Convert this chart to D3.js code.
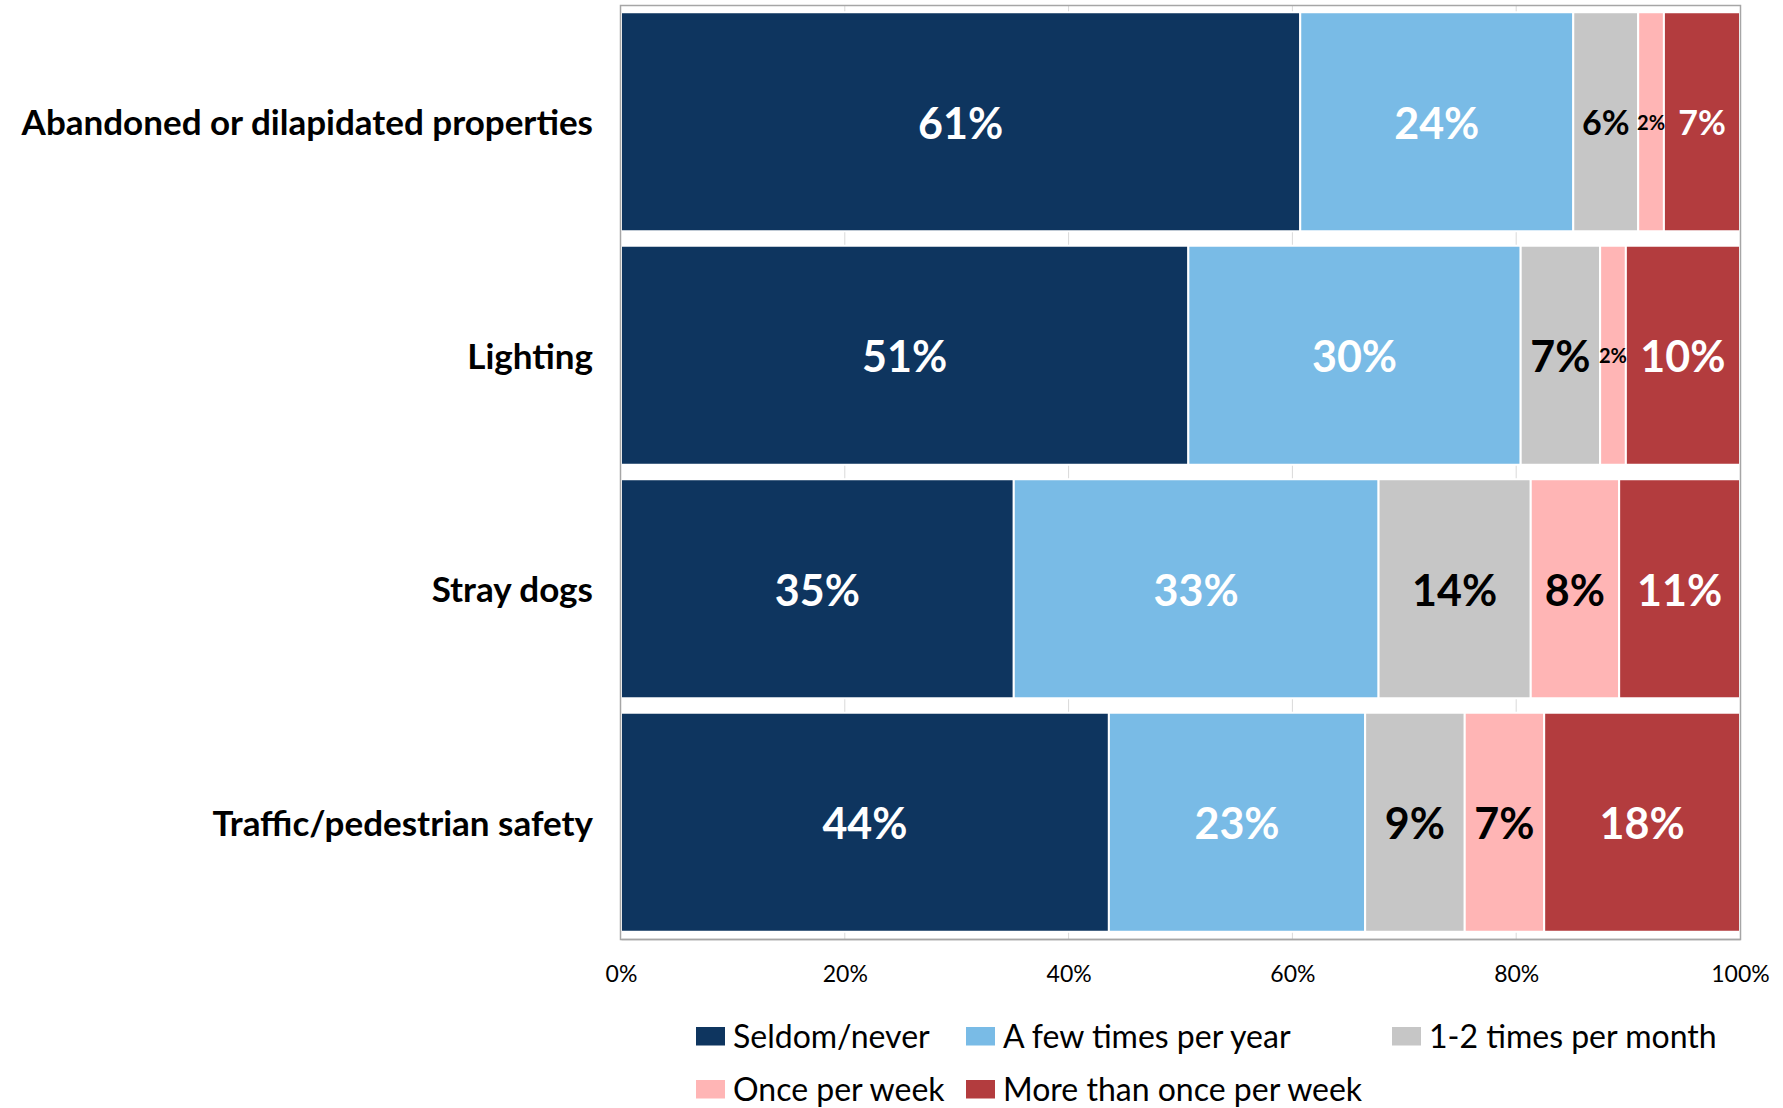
<!DOCTYPE html>
<html>
<head>
<meta charset="utf-8">
<script src="https://cdnjs.cloudflare.com/ajax/libs/d3/7.8.5/d3.min.js"></script>
<style>
  body { margin: 0; background: #fff; }
  svg { display: block; font-family: Lato, "Open Sans", sans-serif; }
</style>
</head>
<body>
<div class="container"></div>
<script>
const WIDTH = 1783,
      HEIGHT = 1108;

// categories top to bottom
const categories = [
  'Abandoned or dilapidated properties',
  'Lighting',
  'Stray dogs',
  'Traffic/pedestrian safety'
];

const seriesNames = [
  'Seldom/never',
  'A few times per year',
  '1-2 times per month',
  'Once per week',
  'More than once per week'
];

// shares per category
const seldomNever   = [0.607, 0.507, 0.351, 0.436];
const fewTimesYear  = [0.244, 0.297, 0.326, 0.229];
const timesPerMonth = [0.058, 0.071, 0.136, 0.089];
const oncePerWeek   = [0.023, 0.023, 0.079, 0.071];
const moreThanWeek  = [0.068, 0.102, 0.109, 0.18];

const tickValues = [0, 0.2, 0.4, 0.6, 0.8, 1];

const colors = ['#0e355f', '#79bbe6', '#c6c6c6', '#ffb5b5', '#b33c3e'];
const labelColors = ['#fff', '#fff', '#000', '#000', '#fff'];
// labels that were set smaller in the original
const reducedLabels = {
  'Abandoned or dilapidated properties': ['1-2 times per month', 'More than once per week']
};

const margin = {top: 5, right: 43, bottom: 169, left: 621};
const innerW = WIDTH - margin.left - margin.right,
      innerH = HEIGHT - margin.top - margin.bottom;

const rows = categories.map((c, i) => {
  const vals = [seldomNever[i], fewTimesYear[i], timesPerMonth[i], oncePerWeek[i], moreThanWeek[i]];
  let acc = 0;
  return {
    category: c,
    segments: vals.map((v, j) => {
      const s = {series: seriesNames[j], j: j, value: v, x0: acc, x1: acc + v};
      acc += v;
      return s;
    })
  };
});

const x = d3.scaleLinear().domain([0, 1]).range([0, innerW]).clamp(true);
const y = d3.scaleBand().domain(categories).range([0, innerH]).paddingInner(0.062).paddingOuter(0.031);

const svg = d3.select('.container').append('svg')
    .attr('width', WIDTH).attr('height', HEIGHT);

const g = svg.append('g').attr('transform', `translate(${margin.left},${margin.top})`);

// gridlines
g.append('g').selectAll('line')
  .data(tickValues.slice(1, -1))
  .join('line')
    .attr('x1', d => x(d)).attr('x2', d => x(d))
    .attr('y1', 0).attr('y2', innerH)
    .attr('stroke', '#d9d9d9').attr('stroke-width', 1);

// bars
const row = g.selectAll('g.row')
  .data(rows)
  .join('g').attr('class', 'row')
    .attr('transform', d => `translate(0,${y(d.category)})`);

row.selectAll('rect')
  .data(d => d.segments)
  .join('rect')
    .attr('x', d => x(d.x0))
    .attr('width', d => x(d.x1) - x(d.x0))
    .attr('y', 0)
    .attr('height', y.bandwidth())
    .attr('fill', d => colors[d.j])
    .attr('stroke', '#fff')
    .attr('stroke-width', 2);

row.selectAll('text')
  .data(d => d.segments.map(s => Object.assign({category: d.category}, s)))
  .join('text')
    .attr('x', d => (x(d.x0) + x(d.x1)) / 2)
    .attr('y', y.bandwidth() / 2)
    .attr('dy', '0.4em')
    .attr('text-anchor', 'middle')
    .attr('font-weight', 700)
    .attr('font-size', d => {
      if (d.value < 0.03) return 20;
      if ((reducedLabels[d.category] || []).includes(d.series)) return 34;
      return 43;
    })
    .attr('fill', d => labelColors[d.j])
    .text(d => Math.round(d.value * 100) + '%');

// frame
g.append('rect')
  .attr('x', -0.5).attr('y', 0.5)
  .attr('width', innerW + 1).attr('height', innerH)
  .attr('fill', 'none')
  .attr('stroke', '#a6a6a6').attr('stroke-width', 1.5);

// x axis
const xAxis = g.append('g')
  .attr('transform', `translate(0,${innerH})`)
  .call(d3.axisBottom(x).tickValues(tickValues).tickFormat(d3.format('.0%')).tickSize(0).tickPadding(27));
xAxis.select('.domain').attr('stroke', '#a6a6a6').attr('stroke-width', 1.5);
xAxis.selectAll('text')
  .attr('font-family', 'Lato, "Open Sans", sans-serif')
  .attr('font-size', 23).attr('fill', '#000');

// category labels
g.append('g').selectAll('text')
  .data(categories)
  .join('text')
    .attr('x', -28)
    .attr('y', d => y(d) + y.bandwidth() / 2)
    .attr('dy', '0.38em')
    .attr('text-anchor', 'end')
    .attr('font-weight', 700)
    .attr('font-size', 35)
    .attr('fill', '#000')
    .text(d => d);

// legend
const legendCols = [696, 966, 1392];
const legend = svg.append('g').selectAll('g')
  .data(seriesNames)
  .join('g')
    .attr('transform', (d, i) => `translate(${legendCols[i % 3]},${1027 + Math.floor(i / 3) * 53})`);

legend.append('rect')
  .attr('width', 29).attr('height', 18.5)
  .attr('fill', (d, i) => colors[i]);

legend.append('text')
  .attr('x', 37).attr('y', 9.25).attr('dy', '0.36em')
  .attr('font-size', 32).attr('fill', '#000')
  .text(d => d);
</script>
</body>
</html>
